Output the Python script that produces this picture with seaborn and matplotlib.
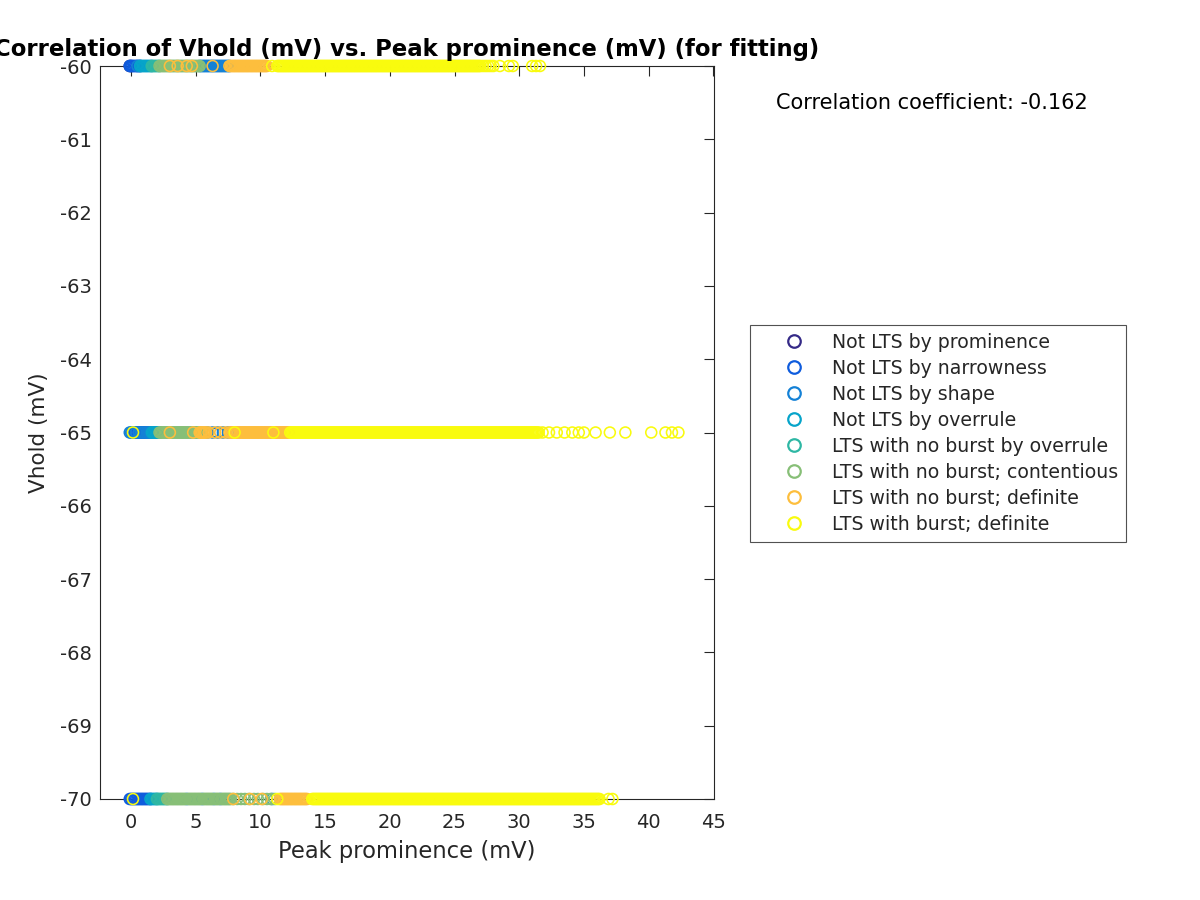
import numpy as np
import pandas as pd
import matplotlib
matplotlib.use("Agg")
import matplotlib.pyplot as plt
import seaborn as sns
from matplotlib.lines import Line2D

# ---------------- data ----------------
categories = [
    "Not LTS by prominence",
    "Not LTS by narrowness",
    "Not LTS by shape",
    "Not LTS by overrule",
    "LTS with no burst by overrule",
    "LTS with no burst; contentious",
    "LTS with no burst; definite",
    "LTS with burst; definite",
]
colors = ["#352a87", "#0f5cdd", "#1481d6", "#06a4ca",
          "#2eb7a4", "#87bf77", "#fdbe3d", "#f9fb0e"]
vhold_levels = [-60, -65, -70]

# Peak prominence values (mV) per category at each holding potential
prom_m60 = [-0.1, 0.0]
prom_m65 = []
prom_m70 = []

narrow_m60 = [-0.1, 0.0, 0.1, 0.2, 0.3, 0.4, 0.5, 0.6, 0.7]
narrow_m65 = [0.1, 0.2, 0.3, 0.4, 0.5, 0.6, 0.7, 0.8, 0.9, 1.0, 1.1, 1.2]
narrow_m70 = [-0.1, 0.0, 0.1, 0.2, 0.3, 0.4, 0.5, 0.6, 0.7, 0.8, 0.9, 1.0,
              1.1, 1.2, 1.3, 1.4, 1.5]

shape_m60 = [0.5, 0.7, 5.3, 5.4, 5.5, 5.6, 5.7, 5.8, 5.9, 6.0, 6.1, 6.2, 6.3,
             6.4, 6.5, 6.6, 6.7, 6.8, 6.9, 7.0, 7.1, 7.2, 7.3, 7.4, 7.5, 7.6]
shape_m65 = [-0.1, 0.0, 0.2, 0.4, 0.6, 0.8, 1.0, 1.2, 1.3, 1.4, 1.5, 1.6,
             1.7, 1.8, 1.9, 2.0, 2.1, 2.2, 5.9, 6.3, 6.7, 7.1, 7.5]
shape_m70 = [4.3, 5.5, 6.4, 6.9, 10.9]

overrule_m60 = [0.7, 0.8, 0.9, 1.0, 1.1, 1.2, 1.3, 1.4, 1.5, 1.6]
overrule_m65 = [1.6, 1.7, 1.8, 1.9, 2.0, 2.1, 2.2]
overrule_m70 = [1.5, 1.6, 1.7, 1.8, 1.9, 2.0]

nbover_m60 = [1.6, 1.7, 1.8, 1.9, 2.0, 2.1, 2.2]
nbover_m65 = []
nbover_m70 = [2.0, 2.1, 2.2, 2.3, 2.4, 2.5, 2.6, 2.7, 2.8]

content_m60 = [2.2, 2.3, 2.4, 2.5, 2.6, 2.7, 2.8, 2.9, 3.0, 3.1, 3.2, 3.3,
               3.4, 3.5, 3.6, 3.7, 3.8, 3.9, 4.0, 4.1, 4.2, 4.3, 4.4, 4.5,
               4.6, 4.7, 4.8, 4.9, 5.0, 5.1, 5.2, 5.3]
content_m65 = [2.2, 2.3, 2.4, 2.5, 2.6, 2.7, 2.8, 2.9, 3.0, 3.1, 3.2, 3.3,
               3.4, 3.5, 3.6, 3.7, 3.8, 3.9, 4.0, 4.1, 4.2, 4.3, 4.4, 4.5,
               4.6, 4.7, 4.8, 4.9, 5.0, 5.1, 5.2, 5.3]
content_m70 = [2.8, 2.9, 3.0, 3.1, 3.2, 3.3, 3.4, 3.5, 3.6, 3.7, 3.8, 3.9,
               4.0, 4.1, 4.2, 4.4, 4.5, 4.6, 4.7, 4.8, 4.9, 5.0, 5.1, 5.2,
               5.3, 5.4, 5.6, 5.7, 5.8, 5.9, 6.0, 6.1, 6.2, 6.3, 6.5, 6.6,
               6.7, 6.8, 7.0, 7.1, 7.2, 7.3, 7.4, 7.5, 7.6, 7.7, 7.9, 8.2,
               8.5, 8.8, 9.1, 9.5, 9.8, 10.2, 10.5, 10.8, 11.1]

definite_m60 = [3.0, 3.6, 4.3, 4.7, 6.3, 7.6, 7.7, 7.8, 7.9, 8.0, 8.1, 8.2,
                8.3, 8.4, 8.5, 8.6, 8.7, 8.8, 8.9, 9.0, 9.1, 9.2, 9.3, 9.4,
                9.5, 9.6, 9.7, 9.8, 9.9, 10.0, 10.1, 10.2, 10.3, 10.4, 10.5]
definite_m65 = [3.0, 4.8, 5.3, 5.4, 5.5, 5.6, 5.7, 5.8, 6.0, 6.5, 6.9, 7.3,
                7.6, 7.7, 7.8, 7.9, 8.0, 8.1, 8.2, 8.3, 8.4, 8.5, 8.6, 8.7,
                8.8, 8.9, 9.0, 9.1, 9.2, 9.3, 9.4, 9.5, 9.6, 9.7, 9.8, 9.9,
                10.0, 10.1, 10.2, 10.3, 10.4, 10.5, 10.6, 10.7, 10.8, 10.9,
                11.0, 11.1, 11.2, 11.3, 11.4, 11.5, 11.6, 11.7, 11.8, 11.9,
                12.0, 12.1, 12.2]
definite_m70 = [7.9, 9.2, 10.1, 11.5, 11.6, 11.7, 11.8, 11.9, 12.0, 12.1,
                12.2, 12.3, 12.4, 12.5, 12.6, 12.7, 12.8, 12.9, 13.0, 13.1,
                13.2, 13.3, 13.4, 13.5, 13.6]

burst_m60 = [10.9,
    11.3, 11.4, 11.5, 11.6, 11.7, 11.8, 11.9,
    12.0, 12.1, 12.2, 12.3, 12.4, 12.5, 12.6, 12.7, 12.8, 12.9,
    13.0, 13.1, 13.2, 13.3, 13.4, 13.5, 13.6, 13.7, 13.8, 13.9,
    14.0, 14.1, 14.2, 14.3, 14.4, 14.5, 14.6, 14.7, 14.8, 14.9,
    15.0, 15.1, 15.2, 15.3, 15.4, 15.5, 15.6, 15.7, 15.8, 15.9,
    16.0, 16.1, 16.2, 16.3, 16.4, 16.5, 16.6, 16.7, 16.8, 16.9,
    17.0, 17.1, 17.2, 17.3, 17.4, 17.5, 17.6, 17.7, 17.8, 17.9,
    18.0, 18.1, 18.2, 18.3, 18.4, 18.5, 18.6, 18.7, 18.8, 18.9,
    19.0, 19.1, 19.2, 19.3, 19.4, 19.5, 19.6, 19.7, 19.8, 19.9,
    20.0, 20.1, 20.2, 20.3, 20.4, 20.5, 20.6, 20.7, 20.8, 20.9,
    21.0, 21.1, 21.2, 21.3, 21.4, 21.5, 21.6, 21.7, 21.8, 21.9,
    22.0, 22.1, 22.2, 22.3, 22.4, 22.5, 22.6, 22.7, 22.8, 22.9,
    23.0, 23.1, 23.2, 23.3, 23.4, 23.5, 23.6, 23.7, 23.8, 23.9,
    24.0, 24.1, 24.2, 24.3, 24.4, 24.5, 24.6, 24.7, 24.8, 24.9,
    25.0, 25.1, 25.2, 25.3, 25.4, 25.5, 25.6, 25.7, 25.8, 25.9,
    26.0, 26.1, 26.2, 26.3, 26.4, 26.5, 26.6, 26.7, 26.8, 26.9,
    27.0, 27.2, 27.4, 27.6, 27.8, 28.0, 28.5, 29.2, 29.5, 31.0, 31.3, 31.6]
burst_m65 = [0.15, 8.0, 11.0,
    12.3, 12.4, 12.5, 12.6, 12.7, 12.8, 12.9,
    13.0, 13.1, 13.2, 13.3, 13.4, 13.5, 13.6, 13.7, 13.8, 13.9,
    14.0, 14.1, 14.2, 14.3, 14.4, 14.5, 14.6, 14.7, 14.8, 14.9,
    15.0, 15.1, 15.2, 15.3, 15.4, 15.5, 15.6, 15.7, 15.8, 15.9,
    16.0, 16.1, 16.2, 16.3, 16.4, 16.5, 16.6, 16.7, 16.8, 16.9,
    17.0, 17.1, 17.2, 17.3, 17.4, 17.5, 17.6, 17.7, 17.8, 17.9,
    18.0, 18.1, 18.2, 18.3, 18.4, 18.5, 18.6, 18.7, 18.8, 18.9,
    19.0, 19.1, 19.2, 19.3, 19.4, 19.5, 19.6, 19.7, 19.8, 19.9,
    20.0, 20.1, 20.2, 20.3, 20.4, 20.5, 20.6, 20.7, 20.8, 20.9,
    21.0, 21.1, 21.2, 21.3, 21.4, 21.5, 21.6, 21.7, 21.8, 21.9,
    22.0, 22.1, 22.2, 22.3, 22.4, 22.5, 22.6, 22.7, 22.8, 22.9,
    23.0, 23.1, 23.2, 23.3, 23.4, 23.5, 23.6, 23.7, 23.8, 23.9,
    24.0, 24.1, 24.2, 24.3, 24.4, 24.5, 24.6, 24.7, 24.8, 24.9,
    25.0, 25.1, 25.2, 25.3, 25.4, 25.5, 25.6, 25.7, 25.8, 25.9,
    26.0, 26.1, 26.2, 26.3, 26.4, 26.5, 26.6, 26.7, 26.8, 26.9,
    27.0, 27.1, 27.2, 27.3, 27.4, 27.5, 27.6, 27.7, 27.8, 27.9,
    28.0, 28.1, 28.2, 28.3, 28.4, 28.5, 28.6, 28.7, 28.8, 28.9,
    29.0, 29.1, 29.2, 29.3, 29.4, 29.5, 29.6, 29.7, 29.8, 29.9,
    30.0, 30.1, 30.2, 30.3, 30.4, 30.5, 30.6, 30.7, 30.8, 30.9,
    31.0, 31.1, 31.2, 31.3, 31.4, 31.5,
    31.8, 32.3, 32.9, 33.5, 34.1, 34.6, 35.0, 35.9, 37.0, 38.2,
    40.2, 41.3, 41.8, 42.3]
burst_m70 = [0.15, 11.3,
    14.0, 14.1, 14.2, 14.3, 14.4, 14.5, 14.6, 14.7, 14.8, 14.9,
    15.0, 15.1, 15.2, 15.3, 15.4, 15.5, 15.6, 15.7, 15.8, 15.9,
    16.0, 16.1, 16.2, 16.3, 16.4, 16.5, 16.6, 16.7, 16.8, 16.9,
    17.0, 17.1, 17.2, 17.3, 17.4, 17.5, 17.6, 17.7, 17.8, 17.9,
    18.0, 18.1, 18.2, 18.3, 18.4, 18.5, 18.6, 18.7, 18.8, 18.9,
    19.0, 19.1, 19.2, 19.3, 19.4, 19.5, 19.6, 19.7, 19.8, 19.9,
    20.0, 20.1, 20.2, 20.3, 20.4, 20.5, 20.6, 20.7, 20.8, 20.9,
    21.0, 21.1, 21.2, 21.3, 21.4, 21.5, 21.6, 21.7, 21.8, 21.9,
    22.0, 22.1, 22.2, 22.3, 22.4, 22.5, 22.6, 22.7, 22.8, 22.9,
    23.0, 23.1, 23.2, 23.3, 23.4, 23.5, 23.6, 23.7, 23.8, 23.9,
    24.0, 24.1, 24.2, 24.3, 24.4, 24.5, 24.6, 24.7, 24.8, 24.9,
    25.0, 25.1, 25.2, 25.3, 25.4, 25.5, 25.6, 25.7, 25.8, 25.9,
    26.0, 26.1, 26.2, 26.3, 26.4, 26.5, 26.6, 26.7, 26.8, 26.9,
    27.0, 27.1, 27.2, 27.3, 27.4, 27.5, 27.6, 27.7, 27.8, 27.9,
    28.0, 28.1, 28.2, 28.3, 28.4, 28.5, 28.6, 28.7, 28.8, 28.9,
    29.0, 29.1, 29.2, 29.3, 29.4, 29.5, 29.6, 29.7, 29.8, 29.9,
    30.0, 30.1, 30.2, 30.3, 30.4, 30.5, 30.6, 30.7, 30.8, 30.9,
    31.0, 31.1, 31.2, 31.3, 31.4, 31.5, 31.6, 31.7, 31.8, 31.9,
    32.0, 32.1, 32.2, 32.3, 32.4, 32.5, 32.6, 32.7, 32.8, 32.9,
    33.0, 33.1, 33.2, 33.3, 33.4, 33.5, 33.6, 33.7, 33.8, 33.9,
    34.0, 34.1, 34.2, 34.3, 34.4, 34.5, 34.6, 34.7, 34.8, 34.9,
    35.0, 35.1, 35.2, 35.3, 35.4, 35.5, 35.6, 35.7, 35.8, 35.9,
    36.0, 36.1, 36.2, 36.9, 37.2]

x_ticks = [0, 5, 10, 15, 20, 25, 30, 35, 40, 45]
y_ticks = [-70, -69, -68, -67, -66, -65, -64, -63, -62, -61, -60]
corr_text = "Correlation coefficient: -0.162"

group_lists = [
    (prom_m60, prom_m65, prom_m70),
    (narrow_m60, narrow_m65, narrow_m70),
    (shape_m60, shape_m65, shape_m70),
    (overrule_m60, overrule_m65, overrule_m70),
    (nbover_m60, nbover_m65, nbover_m70),
    (content_m60, content_m65, content_m70),
    (definite_m60, definite_m65, definite_m70),
    (burst_m60, burst_m65, burst_m70),
]

rows = []
for cat, lists in zip(categories, group_lists):
    for v, xs in zip(vhold_levels, lists):
        for xv in xs:
            rows.append((xv, v, cat))
df = pd.DataFrame(rows, columns=["prominence", "vhold", "group"])

# ---------------- plot ----------------
sns.set_theme(style="white")
plt.rcParams["font.family"] = ["DejaVu Sans"]
plt.rcParams["axes.unicode_minus"] = False

fig = plt.figure(figsize=(12, 9), dpi=100)
ax = fig.add_axes([100 / 1200, 1 - 799 / 900, 614 / 1200, 733 / 900])

palette = dict(zip(categories, colors))
sns.scatterplot(data=df, x="prominence", y="vhold", hue="group",
                hue_order=categories, palette=palette, s=62, linewidth=0,
                legend=False, ax=ax)
coll = ax.collections[0]
fc = coll.get_facecolors()
coll.set_edgecolors(fc)
coll.set_facecolors("none")
coll.set_linewidths(1.15)
coll.set_clip_on(False)
coll.set_zorder(3)

ax.set_xlim(-2.4, 45.05)
ax.set_ylim(-70, -60)
ax.set_xticks(x_ticks)
ax.set_yticks(y_ticks)
ax.set_xticklabels([str(t) for t in x_ticks])
ax.set_yticklabels([str(t) for t in y_ticks])
dark = "#262626"
ax.tick_params(direction="in", top=True, right=True, length=7, width=0.8,
               colors=dark, labelsize=14)
ax.tick_params(axis="x", pad=10)
ax.tick_params(axis="y", pad=6)
for sp in ax.spines.values():
    sp.set_color(dark)
    sp.set_linewidth(0.8)
    sp.set_zorder(2)

ax.set_xlabel("Peak prominence (mV)", fontsize=16.3, color=dark, labelpad=6)
ax.set_ylabel("Vhold (mV)", fontsize=15.5, color=dark, labelpad=8)
ax.set_title("Correlation of Vhold (mV) vs. Peak prominence (mV) (for fitting)",
             fontsize=16.4, fontweight="bold", color="black", pad=7)

fig.text(776 / 1200, 1 - 103 / 900, corr_text, fontsize=15,
         ha="left", va="center", color="black")

handles = [Line2D([0], [0], marker="o", linestyle="none", markersize=9,
                  markerfacecolor="none", markeredgecolor=c,
                  markeredgewidth=1.6) for c in colors]
leg = fig.legend(handles, categories, loc="upper left",
                 bbox_to_anchor=(750 / 1200, 1 - 325 / 900),
                 bbox_transform=fig.transFigure, fontsize=13.6,
                 frameon=True, fancybox=False, shadow=False,
                 borderpad=0.42, labelspacing=0.37, handlelength=3.8,
                 handletextpad=0.1, borderaxespad=0)
leg.get_frame().set_edgecolor(dark)
leg.get_frame().set_linewidth(0.8)

fig.savefig("out.png", dpi=100)
